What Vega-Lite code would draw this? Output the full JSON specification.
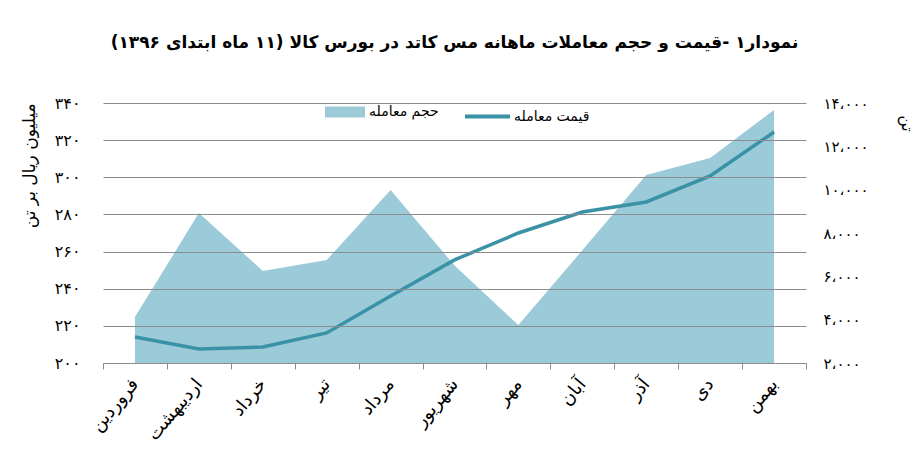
{
  "$schema": "https://vega.github.io/schema/vega-lite/v6.json",
  "width": 703,
  "height": 260,
  "autosize": {"type": "none"},
  "padding": {"left": 103, "top": 103, "right": 111, "bottom": 97},
  "background": "white",
  "title": {
    "text": "\u202bنمودار۱ -قیمت و حجم معاملات ماهانه مس کاتد در بورس کالا (۱۱ ماه ابتدای ۱۳۹۶)\u202c",
    "font": "DejaVu Sans",
    "fontSize": 17,
    "fontWeight": "bold",
    "color": "black",
    "anchor": "middle",
    "frame": "group",
    "offset": 40
  },
  "config": {
    "view": {"stroke": null},
    "axis": {"labelFont": "DejaVu Sans", "titleFont": "DejaVu Sans", "labelColor": "black", "titleColor": "black"},
    "legend": {"labelFont": "DejaVu Sans", "labelColor": "black"}
  },
  "data": {
    "values": [
      {"month": "فروردین", "price": 214.0, "volume": 4120},
      {"month": "اردیبهشت", "price": 207.5, "volume": 8920},
      {"month": "خرداد", "price": 208.6, "volume": 6250},
      {"month": "تیر", "price": 216.2, "volume": 6750},
      {"month": "مرداد", "price": 236.1, "volume": 9980},
      {"month": "شهریور", "price": 255.5, "volume": 6500},
      {"month": "مهر", "price": 270.0, "volume": 3750},
      {"month": "آبان", "price": 281.3, "volume": 7200},
      {"month": "آذر", "price": 286.7, "volume": 10680},
      {"month": "دی", "price": 300.7, "volume": 11460},
      {"month": "بهمن", "price": 324.4, "volume": 13680}
    ]
  },
  "encoding": {
    "x": {
      "field": "month",
      "type": "nominal",
      "sort": null,
      "bandPosition": 0.5,
      "scale": {"type": "band", "paddingInner": 0, "paddingOuter": 0},
      "axis": {
        "title": null,
        "labelAngle": -50,
        "labelFontSize": 18,
        "tickBand": "extent",
        "tickColor": "#888888",
        "domainColor": "#888888",
        "tickSize": 6,
        "labelPadding": 12,
        "grid": false
      }
    }
  },
  "layer": [
    {
      "mark": {"type": "area", "opacity": 1},
      "encoding": {
        "y": {
          "field": "volume",
          "type": "quantitative",
          "scale": {"domain": [2000, 14000]},
          "axis": {
            "orient": "right",
            "values": [2000, 4000, 6000, 8000, 10000, 12000, 14000],
            "labelExpr": "{'2000':'۲،۰۰۰','4000':'۴،۰۰۰','6000':'۶،۰۰۰','8000':'۸،۰۰۰','10000':'۱۰،۰۰۰','12000':'۱۲،۰۰۰','14000':'۱۴،۰۰۰'}[datum.value]",
            "grid": false,
            "ticks": false,
            "domain": false,
            "labelPadding": 17,
            "labelFontSize": 15,
            "title": "تن",
            "titleAngle": 90,
            "titleX": 92,
            "titleY": 20,
            "titleFontSize": 16,
            "titleFontWeight": "normal"
          }
        },
        "y2": {"datum": 2000},
        "fill": {
          "datum": "حجم معامله",
          "scale": {"range": ["#9bcad8"]},
          "legend": {
            "orient": "none",
            "legendX": 222,
            "legendY": -11,
            "title": null,
            "symbolType": "M-1,-0.275L1,-0.275L1,0.275L-1,0.275Z",
            "symbolSize": 1600,
            "symbolStrokeWidth": 0,
            "labelFontSize": 14,
            "labelOffset": 4
          }
        }
      }
    },
    {
      "mark": {"type": "line", "strokeWidth": 3.5},
      "encoding": {
        "y": {
          "field": "price",
          "type": "quantitative",
          "scale": {"domain": [200, 340]},
          "axis": {
            "orient": "left",
            "values": [200, 220, 240, 260, 280, 300, 320, 340],
            "labelExpr": "{'200':'۲۰۰','220':'۲۲۰','240':'۲۴۰','260':'۲۶۰','280':'۲۸۰','300':'۳۰۰','320':'۳۲۰','340':'۳۴۰'}[datum.value]",
            "grid": true,
            "gridColor": "#8c8c8c",
            "gridWidth": 1,
            "domain": false,
            "ticks": false,
            "labelPadding": 23,
            "labelFontSize": 16,
            "title": "میلیون ریال بر تن",
            "titleAnchor": "end",
            "titleFontSize": 17,
            "titleFontWeight": "normal",
            "titlePadding": 16,
            "zindex": 1
          }
        },
        "stroke": {
          "datum": "قیمت معامله",
          "scale": {"range": ["#3a92a6"]},
          "legend": {
            "orient": "none",
            "legendX": 360,
            "legendY": -11,
            "title": null,
            "symbolType": "stroke",
            "symbolSize": 2025,
            "symbolStrokeWidth": 4,
            "labelFontSize": 14,
            "labelOffset": 2
          }
        }
      }
    }
  ],
  "resolve": {"scale": {"y": "independent", "fill": "independent", "stroke": "independent"}}
}
